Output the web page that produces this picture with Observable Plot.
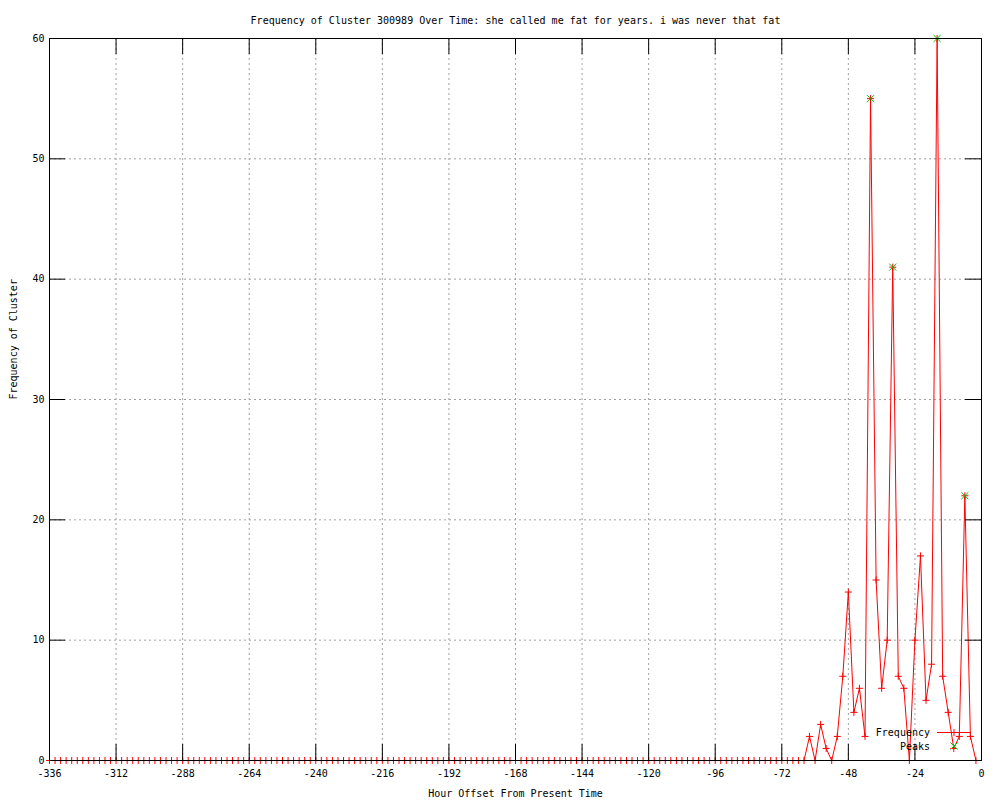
<!DOCTYPE html>
<html>
<head>
<meta charset="utf-8">
<script src="https://cdn.jsdelivr.net/npm/d3@7"></script>
<script src="https://cdn.jsdelivr.net/npm/@observablehq/plot@0.6"></script>
<style>
  html, body { margin: 0; padding: 0; background: #fff; }
  #chart svg { display: block; }
</style>
</head>
<body>
<div id="chart"></div>
<script>
const titleText = "Frequency of Cluster 300989 Over Time: she called me fat for years. i was never that fat";
const xLabelText = "Hour Offset From Present Time";
const yLabelText = "Frequency of Cluster";

// sample hours: every 2 hours from -336 to -2
const hours = d3.range(-336, -1, 2);
// frequency at each sample hour
const frequency = [
  0,0,0,0,0,0,0,0,0,0,0,0,0,0,0,0,0,0,0,0,
  0,0,0,0,0,0,0,0,0,0,0,0,0,0,0,0,0,0,0,0,
  0,0,0,0,0,0,0,0,0,0,0,0,0,0,0,0,0,0,0,0,
  0,0,0,0,0,0,0,0,0,0,0,0,0,0,0,0,0,0,0,0,
  0,0,0,0,0,0,0,0,0,0,0,0,0,0,0,0,0,0,0,0,
  0,0,0,0,0,0,0,0,0,0,0,0,0,0,0,0,0,0,0,0,
  0,0,0,0,0,0,0,0,0,0,0,0,0,0,0,0,0,
  // -62 .. -2
  2,0,3,1,0,2,7,14,4,6,2,55,15,6,10,41,7,6,0,10,17,5,8,60,7,4,1,2,22,2,0
];
const peakHours = [-40, -32, -16, -6];
const peakValues = [55, 41, 60, 22];

const xTicks = [-336, -312, -288, -264, -240, -216, -192, -168, -144, -120, -96, -72, -48, -24, 0];
const yTicks = [0, 10, 20, 30, 40, 50, 60];

const freqData = hours.map((h, i) => ({hour: h, value: frequency[i]}));
const peakData = peakHours.map((h, i) => ({hour: h, value: peakValues[i]}));

const FONT = "DejaVu Sans Mono";
const RED = "#ff0000";
const GREEN = "#00c000";
const TICK = 16;

const W = 1000, H = 800;
const mL = 49, mR = 19, mT = 38, mB = 40;
const plotW = W - mL - mR, plotH = H - mT - mB;

function legendMark(index, scales, values, dims) {
  const right = dims.width - dims.marginRight;
  const bottom = dims.height - dims.marginBottom;
  const g = d3.create("svg:g")
    .attr("font-family", FONT)
    .attr("font-size", 10)
    .attr("fill", "black");
  const rows = [
    {label: "Frequency", dy: -27.5},
    {label: "Peaks", dy: -14}
  ];
  const textX = right - 51;
  const cx = right - 27;
  // Frequency row
  g.append("text").attr("x", textX).attr("y", bottom + rows[0].dy)
    .attr("text-anchor", "end").attr("dominant-baseline", "central").text(rows[0].label);
  g.append("line").attr("x1", right - 44).attr("x2", right - 10)
    .attr("y1", bottom + rows[0].dy).attr("y2", bottom + rows[0].dy)
    .attr("stroke", RED).attr("stroke-width", 1);
  g.append("path").attr("d", `M${cx - 3.5},${bottom + rows[0].dy}h7M${cx},${bottom + rows[0].dy - 3.5}v7`)
    .attr("stroke", RED).attr("fill", "none");
  // Peaks row
  g.append("text").attr("x", textX).attr("y", bottom + rows[1].dy)
    .attr("text-anchor", "end").attr("dominant-baseline", "central").text(rows[1].label);
  const py = bottom + rows[1].dy;
  g.append("path").attr("d", `M${cx - 3.5},${py - 3.5}l7,7M${cx - 3.5},${py + 3.5}l7,-7`)
    .attr("stroke", GREEN).attr("fill", "none");
  return g.node();
}

const chart = Plot.plot({
  width: W,
  height: H,
  marginLeft: mL,
  marginRight: mR,
  marginTop: mT,
  marginBottom: mB,
  x: {domain: [-336, 0], axis: null},
  y: {domain: [0, 60], axis: null},
  style: {fontFamily: FONT, fontSize: "10px", background: "white"},
  marks: [
    // grid
    Plot.ruleX(xTicks.slice(1, -1), {x: d => d, stroke: "#a0a0a0", strokeDasharray: "2,3"}),
    Plot.ruleY(yTicks.slice(1, -1), {y: d => d, stroke: "#a0a0a0", strokeDasharray: "2,3"}),
    // data
    Plot.line(freqData, {x: "hour", y: "value", stroke: RED, strokeWidth: 1}),
    Plot.dot(freqData, {x: "hour", y: "value", symbol: "plus", r: 2.4, stroke: RED, strokeWidth: 1}),
    Plot.dot(peakData, {x: "hour", y: "value", symbol: "times", r: 3.3, stroke: GREEN, strokeWidth: 1}),
    // border & ticks
    Plot.frame({stroke: "black", strokeWidth: 1}),
    Plot.ruleX(xTicks, {x: d => d, insetTop: plotH - TICK, stroke: "black"}),
    Plot.ruleX(xTicks, {x: d => d, insetBottom: plotH - TICK, stroke: "black"}),
    Plot.ruleY(yTicks, {y: d => d, insetRight: plotW - TICK, stroke: "black"}),
    Plot.ruleY(yTicks, {y: d => d, insetLeft: plotW - TICK, stroke: "black"}),
    // tick labels
    Plot.text(xTicks, {x: d => d, text: d => String(d), frameAnchor: "bottom", dy: 13, lineAnchor: "middle", fontFamily: FONT, fontSize: 10, fill: "black"}),
    Plot.text(yTicks, {y: d => d, text: d => String(d), frameAnchor: "left", dx: -5, textAnchor: "end", lineAnchor: "middle", fontFamily: FONT, fontSize: 10, fill: "black"}),
    // titles
    Plot.text([titleText], {text: d => d, frameAnchor: "top", dy: -18, lineAnchor: "middle", fontFamily: FONT, fontSize: 10, fill: "black"}),
    Plot.text([xLabelText], {text: d => d, frameAnchor: "bottom", dy: 33, lineAnchor: "middle", fontFamily: FONT, fontSize: 10, fill: "black"}),
    Plot.text([yLabelText], {text: d => d, frameAnchor: "left", dx: -36, rotate: -90, lineAnchor: "middle", fontFamily: FONT, fontSize: 10, fill: "black"}),
    // legend
    legendMark
  ]
});
document.getElementById("chart").appendChild(chart);
</script>
</body>
</html>
